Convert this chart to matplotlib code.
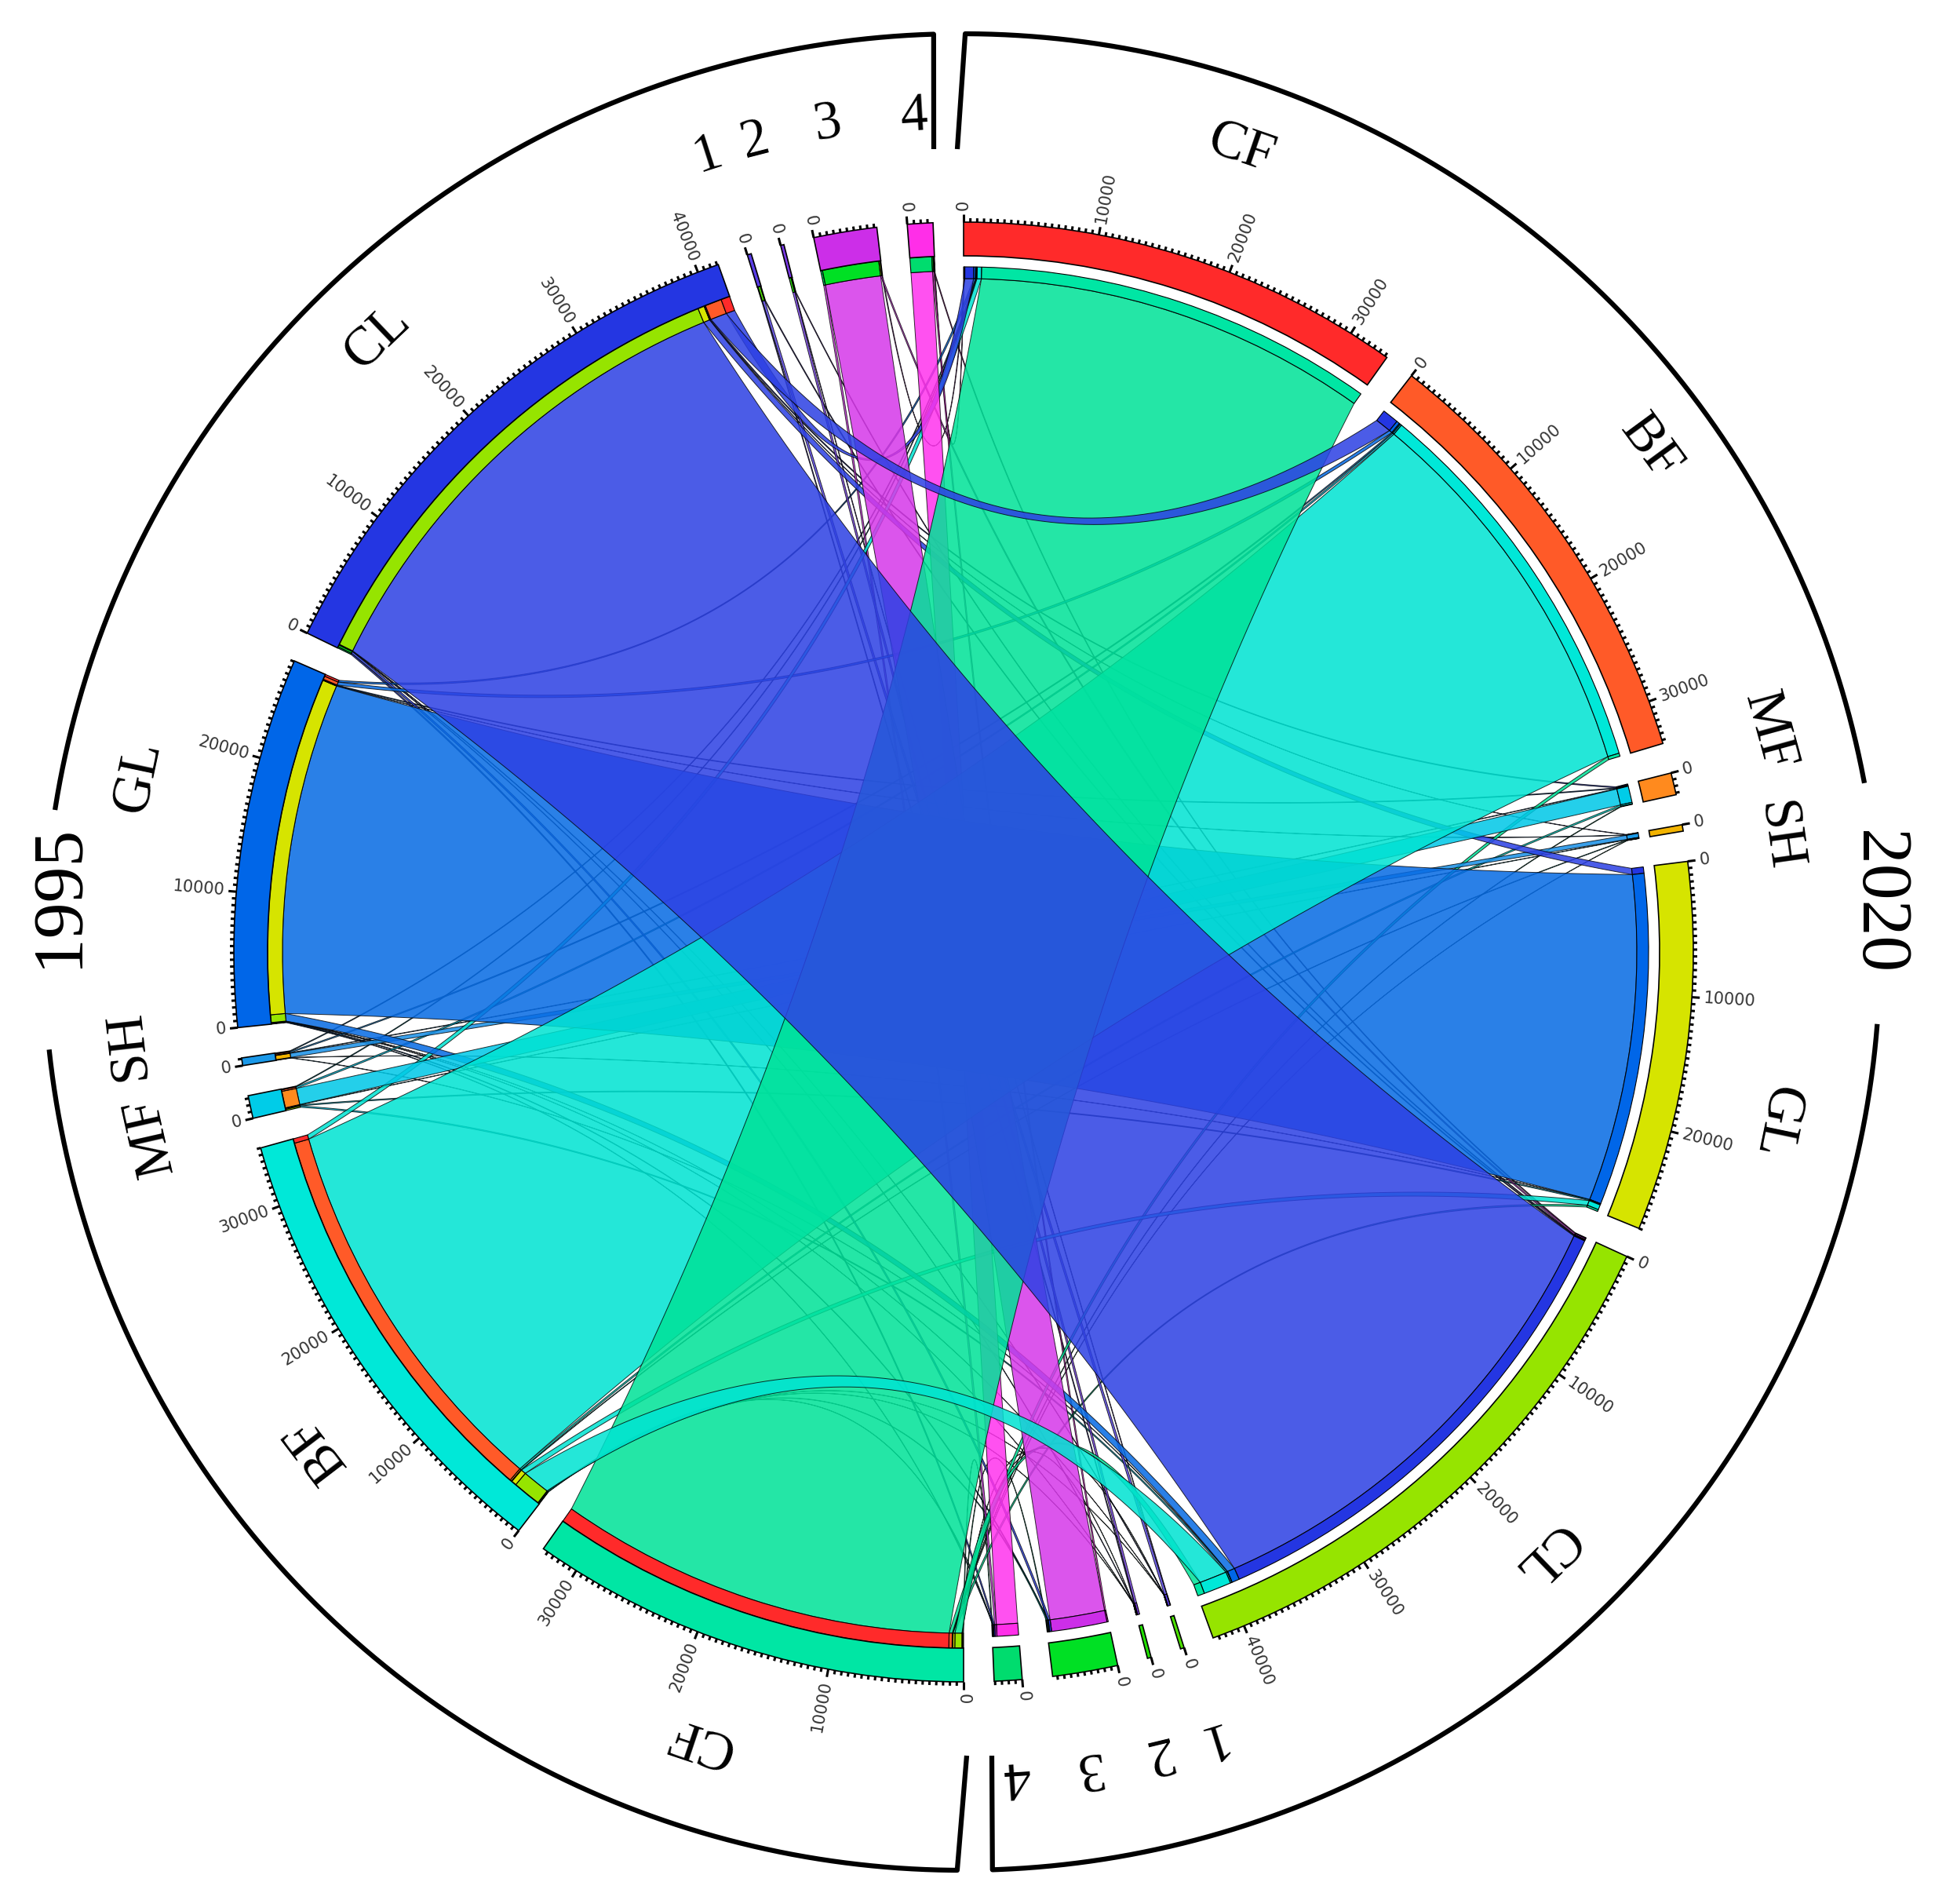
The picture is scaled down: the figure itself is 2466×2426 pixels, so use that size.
import numpy as np
import matplotlib.pyplot as plt
from matplotlib.colors import to_rgb
from matplotlib.patches import Wedge, Polygon
from matplotlib.collections import LineCollection

cats = ["CF", "BF", "MF", "SH", "GL", "CL", "1", "2", "3", "4"]

# area moving from a 1995 class (row) to a 2020 class (column)
flow = np.array([
    # CF     BF     MF    SH    GL     CL     1    2    3     4
    [31760,   250,   40,  20,   150,   550,  10,  10,   60,   50],  # CF
    [  350, 31250,  120,  40,   400,  2200,  10,  10,   80,   40],  # BF
    [   60,   120, 1300,  30,    80,   110,   0,   0,    0,    0],  # MF
    [   60,    90,   40, 330,    20,    30,   0,   0,    0,    0],  # SH
    [  150,   250,   60,  30, 26350,   600,  10,  10,   60,   40],  # GL
    [  700,  1300,   80,  30,   500, 38680,  30,  30,  150,  100],  # CL
    [    0,     0,    0,   0,     0,    60, 180,  60,    0,    0],  # 1
    [    0,     0,    0,   0,     0,    50,  40, 160,    0,    0],  # 2
    [   60,     0,    0,   0,     0,   100,   0,   0, 4400,  140],  # 3
    [   40,     0,    0,   0,     0,    60,   0,   0,  100, 1700],  # 4
])

colors_2020 = ["#ff2a2a", "#ff5a28", "#ff8a1e", "#f2b300", "#d6e400",
               "#96e400", "#4ce000", "#22e000", "#00e024", "#00dc6e"]
colors_1995 = ["#00e6a4", "#00e8d8", "#00cce8", "#1a98e8", "#0066e8",
               "#2436e2", "#5a3ee6", "#7a3ae6", "#cc2ee8", "#ff2ee8"]
# how the ribbons look over white
chord_look = ["#00e6a6", "#00e8d8", "#10d0ea", "#3aa0ea", "#2a80e8",
              "#4a5ce8", "#7060ea", "#8a5cea", "#dc55ec", "#ff50f0"]

# geometry (pixels, y up)
W, H = 2466, 2426
CX, CY = 1228, 1213
R0, RB = 930, 887          # outer bar
RS = 868                   # 1995 side: band RB..RS, chords end at RS
RTO, RT = 873, 858         # 2020 side: band RTO..RT, chords end at RT
GAP = 2.4
HB = 0.5                   # bezier control height
ALPHA = 0.86

deg_per = (360 - 20 * GAP) / (flow.sum() * 2)
sizes = list(flow.sum(axis=0)) + list(flow.sum(axis=1))
starts = []
ang = 90.0
for s in sizes:
    starts.append(ang)
    ang -= s * deg_per + GAP

# link positions inside sectors (clockwise, start -> end)
src_pos, tgt_pos = {}, {}
for i in range(10):
    a = starts[10 + i]
    for j in reversed(range(10)):
        w = flow[i, j] * deg_per
        src_pos[i, j] = (a, a - w)
        a -= w
for j in range(10):
    b = starts[j]
    for i in reversed(range(10)):
        w = flow[i, j] * deg_per
        tgt_pos[i, j] = (b, b - w)
        b -= w


def xy(theta, r):
    t = np.radians(theta)
    return np.array([CX + r * np.cos(t), CY + r * np.sin(t)])


def arc(t1, t2, r):
    n = max(2, int(abs(t1 - t2) * 6) + 2)
    ts = np.radians(np.linspace(t1, t2, n))
    return np.column_stack([CX + r * np.cos(ts), CY + r * np.sin(ts)])


def bez(p0, p2, n=80):
    ctr = np.array([CX, CY])
    c = ctr + HB * ((p0 - ctr) + (p2 - ctr)) / 2
    t = np.linspace(0, 1, n)[:, None]
    return (1 - t) ** 2 * p0 + 2 * (1 - t) * t * c + t ** 2 * p2


def face(i, alpha):
    # colour that gives chord_look[i] when laid over white
    c = (np.array(to_rgb(chord_look[i])) - (1 - alpha)) / alpha
    return (*np.clip(c, 0, 1), alpha)


fig = plt.figure(figsize=(W / 100, H / 100), dpi=100)
ax = fig.add_axes([0, 0, 1, 1])
ax.set_xlim(0, W)
ax.set_ylim(0, H)
ax.axis("off")

# chords, smallest first so the big ones sit on top;
# the two side bands CL->BF and BF->CL stay visible over the CF ribbon
on_top = [(5, 1), (1, 5)]
links = [(flow[i, j], i, j) for i in range(10) for j in range(10)
         if flow[i, j] > 0 and (i, j) not in on_top]
links.sort()
links += [(flow[i, j], i, j) for i, j in on_top]
for v, i, j in links:
    a1, a2 = src_pos[i, j]
    b1, b2 = tgt_pos[i, j]
    pts = np.vstack([
        arc(a1, a2, RS),
        bez(xy(a2, RS), xy(b1, RT)),
        arc(b1, b2, RT),
        bez(xy(b2, RT), xy(a1, RS)),
    ])
    ax.add_patch(Polygon(pts, closed=True, fc=face(i, ALPHA),
                         ec=(0, 0, 0, 0.8), lw=0.7))

# thin bands showing the other end of each link
for (i, j), (a1, a2) in src_pos.items():
    if flow[i, j] > 0:
        ax.add_patch(Wedge((CX, CY), RB, a2, a1, width=RB - RS,
                           fc=colors_2020[j], ec="black", lw=0.8))
for (i, j), (b1, b2) in tgt_pos.items():
    if flow[i, j] > 0:
        ax.add_patch(Wedge((CX, CY), RTO, b2, b1, width=RTO - RT,
                           fc=colors_1995[i], ec="black", lw=0.8))

# sector bars, ticks and tick labels
all_colors = colors_2020 + colors_1995
segs = []
for k, s in enumerate(sizes):
    st = starts[k]
    en = st - s * deg_per
    ax.add_patch(Wedge((CX, CY), R0, en, st, width=R0 - RB,
                       fc=all_colors[k], ec="black", lw=1.2))
    for v in np.arange(0, s + 1, 500):
        th = st - v * deg_per
        ln = 10 if v % 10000 == 0 else 5
        segs.append([xy(th, R0), xy(th, R0 + ln)])
        if v % 10000 == 0:
            p = xy(th, R0 + 15)
            if np.cos(np.radians(th)) >= 0:
                rot, ha = th, "left"
            else:
                rot, ha = th - 180, "right"
            ax.text(p[0], p[1], f"{int(v)}", rotation=rot, ha=ha, va="center",
                    rotation_mode="anchor", fontsize=15, color="#333333",
                    family="DejaVu Sans")
ax.add_collection(LineCollection(segs, colors="black", linewidths=2.2))

# sector names (angle nudge, radius) where the hand placement differs
label_adj = {0: (-1.3, 1082), 1: (1.9, 1085), 2: (2.0, 1063), 3: (-1.7, 1048),
             4: (-4.2, 1057), 5: (1.3, 1066), 6: (-0.2, 1050), 7: (-1.2, 1050),
             8: (-1.0, 1050), 9: (0.1, 1052), 10: (-0.9, 1058), 11: (3.4, 1040),
             12: (0.5, 1063), 13: (-2.3, 1070), 14: (-3.2, 1075),
             15: (1.8, 1081), 16: (0.7, 1066), 17: (0, 1066), 18: (0, 1068),
             19: (0, 1066)}
for k, s in enumerate(sizes):
    dth, rr = label_adj[k]
    mid_t = starts[k] - s * deg_per / 2 + dth
    p = xy(mid_t, rr)
    ax.text(p[0], p[1], cats[k % 10], rotation=mid_t - 90, ha="center",
            va="center", rotation_mode="anchor", fontsize=50,
            family="Liberation Serif")

# outer brackets for the two years
BX, BY, BR = 1226, 1213, 1170


def bracket(t_from, t_to):
    return arc(t_from, t_to, BR) - np.array([CX, CY]) + np.array([BX, BY])


lw_b = 4.5
left_top = bracket(91.77, 171.1)
ax.plot(*np.vstack([[1190, H - 190], left_top]).T, color="black", lw=lw_b,
        solid_capstyle="butt")
left_bot = bracket(186.1, 269.7)
ax.plot(*np.vstack([left_bot, [1232, H - 2237]]).T, color="black", lw=lw_b,
        solid_capstyle="butt")
right_top = bracket(89.8, 10.6)
ax.plot(*np.vstack([[1220, H - 190], right_top]).T, color="black", lw=lw_b,
        solid_capstyle="butt")
right_bot = bracket(-4.5, -88.1)
ax.plot(*np.vstack([right_bot, [1264, H - 2237]]).T, color="black", lw=lw_b,
        solid_capstyle="butt")

ax.text(76, H - 1141, "1995", rotation=90, ha="center", va="center",
        fontsize=66, family="Liberation Serif")
ax.text(2392, H - 1150, "2020", rotation=-90, ha="center", va="center",
        fontsize=66, family="Liberation Serif")

fig.savefig("out.png", dpi=100, facecolor="white")
